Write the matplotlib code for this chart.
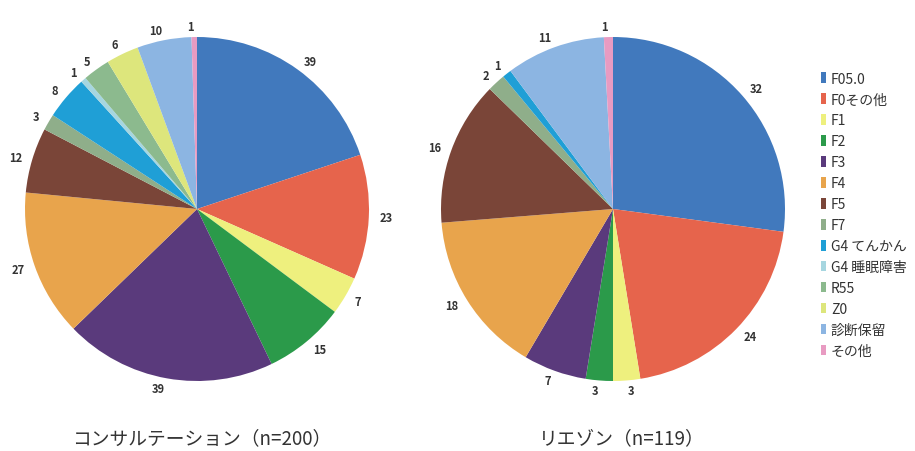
import matplotlib
matplotlib.use("Agg")
import matplotlib.pyplot as plt
from matplotlib.patches import Patch

plt.rcParams['font.family'] = ['Noto Sans CJK JP', 'DejaVu Sans']

categories = ["F05.0", "F0その他", "F1", "F2", "F3", "F4", "F5", "F7",
              "G4 てんかん", "G4 睡眠障害", "R55", "Z0", "診断保留", "その他"]
consultation = [39, 23, 7, 15, 39, 27, 12, 3, 8, 1, 5, 6, 10, 1]
liaison = [32, 24, 3, 3, 7, 18, 16, 2, 1, 0, 0, 0, 11, 1]
titles = ["コンサルテーション（n=200）", "リエゾン（n=119）"]

colors = ["#4179bd", "#e6644c", "#eef07e", "#2b9a4a", "#5a3a7c", "#e8a44c",
          "#7a4538", "#8fae8a", "#1f9fd6", "#a6d6e0", "#8cba8e", "#dde67c",
          "#8cb5e2", "#e89bc2"]

W, H = 915, 452
fig = plt.figure(figsize=(W / 100, H / 100), dpi=100)
fig.patch.set_facecolor("white")

radius_px = 172
centers = [(197, 210), (613, 210)]
title_x = [202, 622]

for (cx, cy), tx, values, title in zip(centers, title_x,
                                       [consultation, liaison], titles):
    ax = fig.add_axes([(cx - radius_px) / W, (H - cy - radius_px) / H,
                       2 * radius_px / W, 2 * radius_px / H])
    labels = [str(v) if v > 0 else "" for v in values]
    wedges, texts = ax.pie(values, labels=labels, colors=colors,
                           startangle=90, counterclock=False,
                           labeldistance=1.06,
                           wedgeprops=dict(linewidth=0),
                           textprops=dict(fontsize=8, color="#333333",
                                          fontweight="bold"))
    ax.set_xlim(-1, 1)
    ax.set_ylim(-1, 1)
    ax.set_aspect("equal")
    fig.text(tx / W, 1 - 439 / H, title, ha="center", va="center",
             fontsize=13.5, color="#333333")

handles = [Patch(facecolor=c, edgecolor="none") for c in colors]
fig.legend(handles, categories, loc="upper left",
           bbox_to_anchor=(808 / W, 1 - 60 / H), frameon=False,
           fontsize=10, handlelength=0.4, handleheight=0.8,
           handletextpad=0.35, labelspacing=0.5, labelcolor="#333333")

fig.savefig("out.png", dpi=100, facecolor="white")
